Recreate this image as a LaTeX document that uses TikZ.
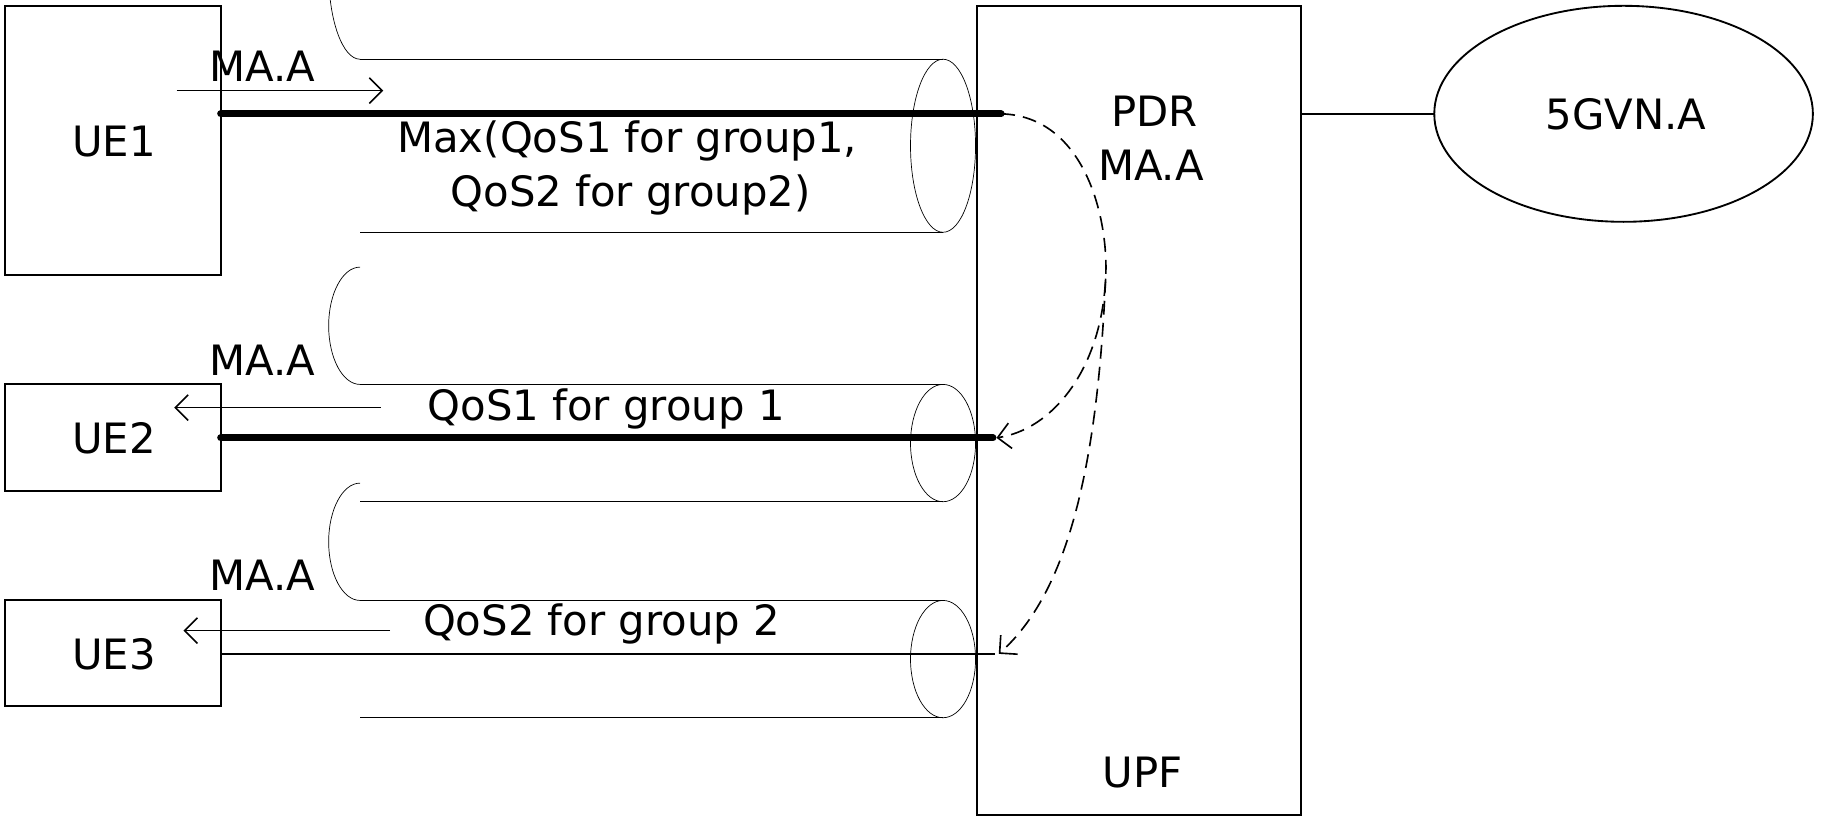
\documentclass[tikz,border=0pt]{standalone}
\usepackage{fontspec}
\setmainfont{DejaVu Sans}
\usetikzlibrary{arrows.meta}
\begin{document}
\begin{tikzpicture}[x=1pt,y=-1pt,
 box/.style={draw,line width=1.6pt},
 lbl/.style={font=\fontsize{36}{42}\selectfont,inner sep=0},
 pipe/.style={line width=0.6pt},
 arr/.style={line width=1.4pt,-{Straight Barb[length=11pt,width=22pt]}},
 dsh/.style={line width=1.4pt,dash pattern=on 12pt off 7pt,-{Straight Barb[length=11pt,width=22pt]}}]
\useasboundingbox (0,0) rectangle (1568,723);
% boxes
\draw[box] (4,5) rectangle (190,237); \node[lbl] (ue1) at (98,122) {UE1};
\draw[box] (4,331) rectangle (190,423); \node[lbl] (ue2) at (98,377) {UE2};
\draw[box] (4,517) rectangle (190,608); \node[lbl] (ue3) at (98,563) {UE3};
\draw[box] (841,5) rectangle (1120,702);
\node[lbl] (pdr) at (994,96) {PDR};
\node[lbl] (ma) at (991,142) {MA.A};
\node[lbl] (upf) at (984,665) {UPF};
\draw[box] (1398,98) ellipse [x radius=163,y radius=93];
\node[lbl] (vn) at (1400,98) {5GVN.A};
\draw[line width=1.6pt] (1120,98) -- (1235,98);
% pipes
\foreach \t/\b in {51/200,331/432,517/618}{
 \pgfmathsetmacro{\c}{(\t+\b)/2}\pgfmathsetmacro{\r}{(\b-\t)/2}
 \draw[pipe] (310,\t) -- (812,\t) (310,\b) -- (812,\b);
 \draw[pipe] (310,\t) arc[start angle=90,end angle=270,x radius=27,y radius=\r];
 \draw[pipe] (812,\c) ellipse [x radius=28,y radius=\r];
}
% lines
\draw[line width=6pt,line cap=round] (190,98) -- (862,98);
\draw[line width=6pt,line cap=round] (190,377) -- (855,377);
\draw[line width=1.6pt] (190,563) -- (857,563);
% arrows
\coordinate (a1) at (152,78); \coordinate (b1) at (330,78);
\draw[arr] (a1) -- (b1);
\coordinate (a2) at (328,351); \coordinate (b2) at (150,351);
\draw[arr] (a2) -- (b2);
\coordinate (a3) at (336,543); \coordinate (b3) at (158,543);
\draw[arr] (a3) -- (b3);
\node[lbl] at (226,57) {MA.A};
\node[lbl] at (226,310) {MA.A};
\node[lbl] at (226,495) {MA.A};
\node[lbl] at (540,121) {Max(QoS1 for group1,};
\node[lbl] at (543,168) {QoS2 for group2)};
\node[lbl] at (522,352) {QoS1 for group 1};
\node[lbl] at (518,537) {QoS2 for group 2};
% dashed
\coordinate (s) at (862,98); \coordinate (m) at (952,240);
\coordinate (e2) at (858,377); \coordinate (e3) at (860,563);
\draw[dsh] (s) .. controls (935,100) and (955,190) .. (m) .. controls (948,320) and (905,370) .. (e2);
\draw[dsh] (m) .. controls (945,400) and (920,510) .. (e3);
\end{tikzpicture}
\end{document}
